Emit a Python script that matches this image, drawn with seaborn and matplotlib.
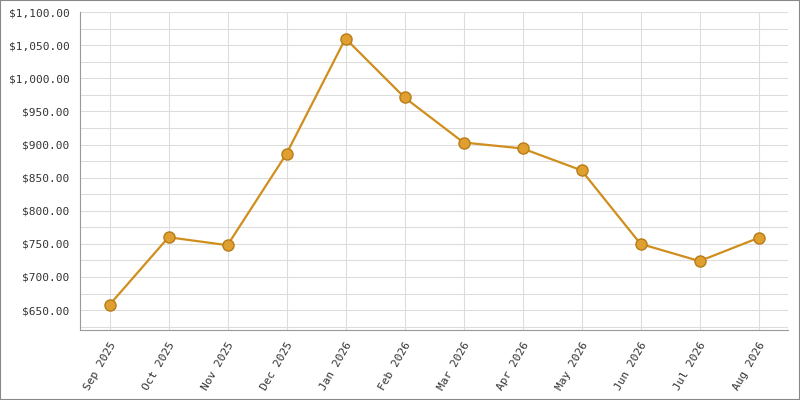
import matplotlib
matplotlib.use("Agg")
import matplotlib.pyplot as plt
import seaborn as sns
import pandas as pd
from matplotlib.ticker import FuncFormatter, MultipleLocator

months = ["Sep 2025","Oct 2025","Nov 2025","Dec 2025","Jan 2026","Feb 2026",
          "Mar 2026","Apr 2026","May 2026","Jun 2026","Jul 2026","Aug 2026"]
values = [658, 760, 748, 886, 1060, 971, 903, 894, 861, 750, 724, 759]

df = pd.DataFrame({"month": months, "value": values, "x": range(len(months))})

sns.set_style("white")
plt.rcParams['font.family'] = ['DejaVu Sans Mono']
fig = plt.figure(figsize=(8, 4), dpi=100)
ax = fig.add_axes([0.1, 0.175, 0.885, 0.795])
sns.lineplot(data=df, x="x", y="value", ax=ax, color="#D08E1C", linewidth=1.6,
             marker="o", markersize=8, markerfacecolor="#E0A030",
             markeredgecolor="#B87C18", markeredgewidth=1)
ax.set_xlim(-0.5, 11.5)
ax.set_ylim(620, 1100)
ax.yaxis.set_major_locator(MultipleLocator(50))
ax.yaxis.set_minor_locator(MultipleLocator(25))
ax.yaxis.set_major_formatter(FuncFormatter(lambda v, p: f"${v:,.2f}" if v >= 650 else ""))
ax.set_xticks(range(len(months)))
ax.set_xticklabels(months, rotation=60, ha="right", rotation_mode="anchor")
ax.tick_params(axis="both", labelsize=8, colors="#333333", length=4, direction="out")
ax.tick_params(axis="y", which="minor", length=0)
ax.grid(True, which="both", color="#DDDDDD", linewidth=0.8)
ax.set_axisbelow(True)
ax.set_xlabel(""); ax.set_ylabel("")
for s in ["top", "right"]:
    ax.spines[s].set_visible(False)
for s in ["left", "bottom"]:
    ax.spines[s].set_color("#999999")
fig.patches.append(plt.Rectangle((0, 0), 1, 1, transform=fig.transFigure,
                                 fill=False, edgecolor="#888888", linewidth=1.5))
fig.savefig("out.png", dpi=100)
